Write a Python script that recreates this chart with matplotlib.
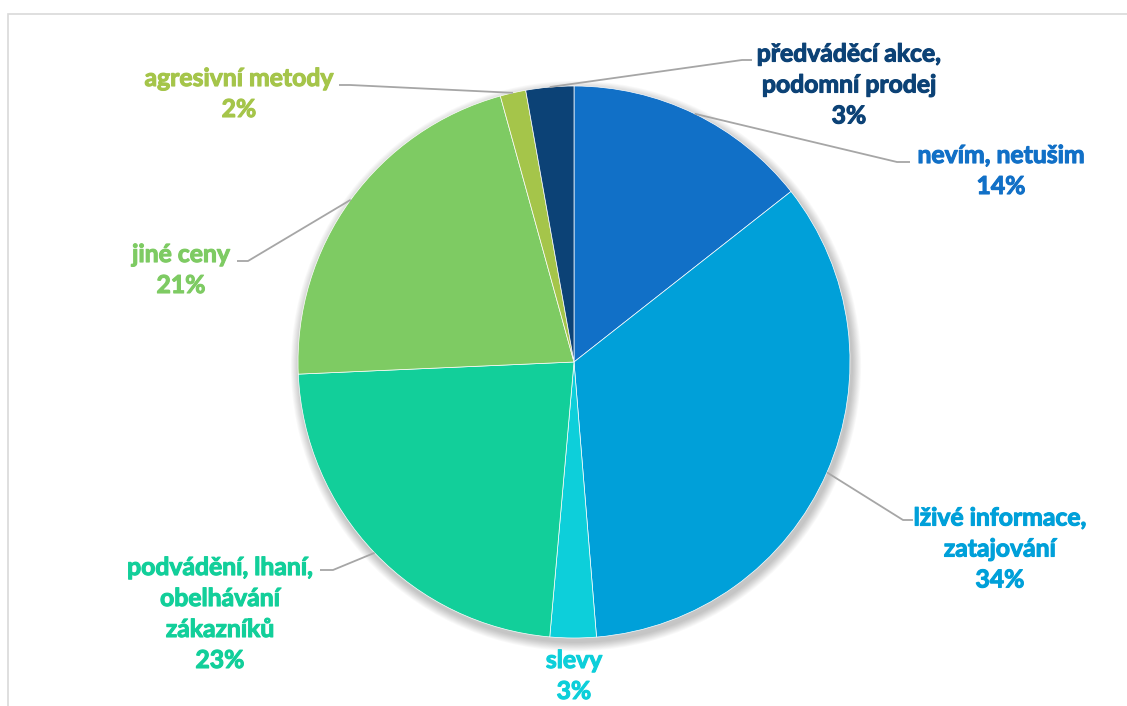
import numpy as np
import matplotlib.pyplot as plt
import matplotlib.patheffects as pe
from matplotlib.patches import Rectangle, Circle

# categories and shares (percent), clockwise from the top
labels = ['nevím, netušim', 'lživé informace,\nzatajování', 'slevy',
          'podvádění, lhaní,\nobelhávání\nzákazníků', 'jiné ceny',
          'agresivní metody', 'předváděcí akce,\npodomní prodej']
values = [14.4, 34.3, 2.7, 22.9, 21.4, 1.5, 2.8]
colors = ['#1170C7', '#00A0D9', '#0DCFDA', '#12CF9A', '#7ECB63', '#A5C54A', '#0C4276']

W, H = 1127, 706
cx, cy, R = 574, H - 362, 276

# label centres and leader-line elbow/end points (pixels, y from top)
label_pos = [(1001, 171), (1000, 549), (574, 676), (220, 614), (181, 270), (239, 94), (849, 85)]
elbows = [((897, 162), (910, 162)), ((903, 520), (913, 520)), None,
          ((333, 570), (320, 570)), ((248, 261), (237, 261)),
          ((350, 85), (339, 85)), ((742, 60), (752, 60))]

plt.rcParams['font.family'] = ['Lato', 'DejaVu Sans']

fig = plt.figure(figsize=(W / 100, H / 100), dpi=100)
ax = fig.add_axes([0, 0, 1, 1])

# chart border
ax.add_patch(Rectangle((8, -20), W + 20, H - 14 + 20, fill=False,
                       edgecolor='#D9D9D9', lw=1.2))

# soft shadow under the pie
for i in range(10):
    ax.add_patch(Circle((cx + 2, cy - 4), R + 1 + i * 0.9, color='black',
                        alpha=0.022, lw=0, zorder=1))

wedges, _ = ax.pie(values, colors=colors, startangle=90, counterclock=False,
                   center=(cx, cy), radius=R, frame=True,
                   wedgeprops=dict(edgecolor='white', linewidth=0.5, zorder=2))
ax.set_xlim(0, W)
ax.set_ylim(0, H)
ax.set_aspect('equal')
ax.axis('off')

total = sum(values)
cum = np.cumsum([0] + values[:-1])
for i, (lab, v) in enumerate(zip(labels, values)):
    pct = 100 * v / total
    x, y = label_pos[i]
    t = ax.text(x, H - y, f'{lab}\n{pct:.0f}%', ha='center', va='center',
                ma='center', color=colors[i], fontsize=17.8, fontweight='bold',
                linespacing=1.42, zorder=5)
    # thicken the strokes a little
    t.set_path_effects([pe.withStroke(linewidth=0.8, foreground=colors[i])])
    if elbows[i] is None:
        continue
    mid = (cum[i] + v / 2) / total * 2 * np.pi
    px, py = cx + R * np.sin(mid), cy + R * np.cos(mid)
    (ex, ey), (tx, ty) = elbows[i]
    ax.plot([px, ex, tx], [py, H - ey, H - ty], color='#A6A6A6', lw=1.3,
            solid_capstyle='butt', zorder=4)

fig.savefig('out.png', dpi=100)
